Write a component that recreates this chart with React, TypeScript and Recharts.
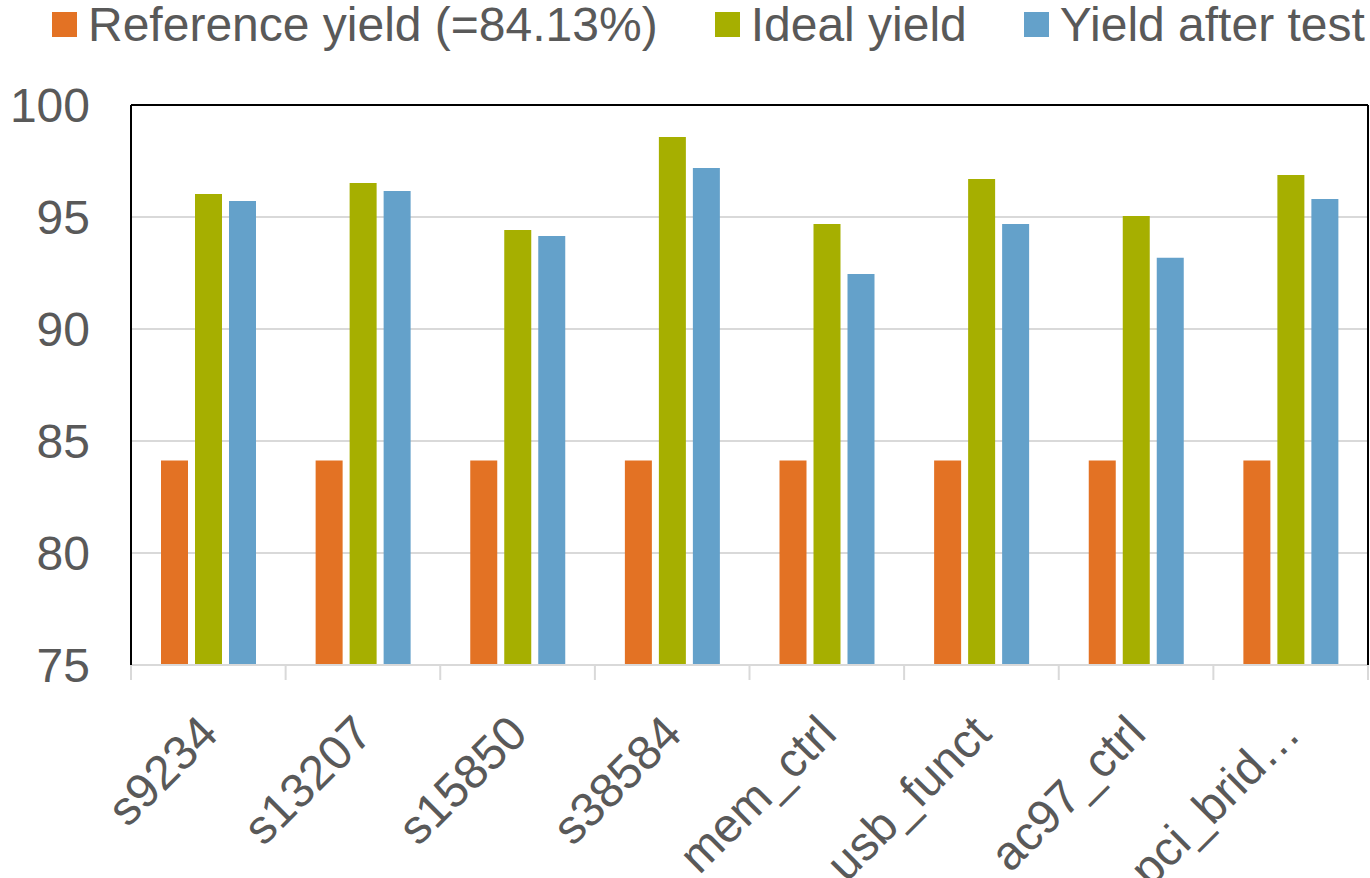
import { BarChart, Bar, XAxis, YAxis, CartesianGrid, ReferenceLine } from "recharts";

const categories = ["s9234", "s13207", "s15850", "s38584", "mem_ctrl", "usb_funct", "ac97_ctrl", "pci_brid…"];
const referenceYield = [84.13, 84.13, 84.13, 84.13, 84.13, 84.13, 84.13, 84.13];
const idealYield = [96.03, 96.52, 94.42, 98.57, 94.69, 96.7, 95.04, 96.88];
const yieldAfterTest = [95.71, 96.16, 94.15, 97.19, 92.46, 94.69, 93.18, 95.8];
const yTicks = [75, 80, 85, 90, 95, 100];

const seriesNames = ["Reference yield (=84.13%)", "Ideal yield", "Yield after test"];
const colors = ["#E37224", "#A6AF00", "#64A1CA"];

const data = categories.map((name, i) => ({
  name,
  reference: referenceYield[i],
  ideal: idealYield[i],
  afterTest: yieldAfterTest[i],
}));

const W = 1370;
const H = 878;
const FONT = "'Liberation Sans', Arial, sans-serif";
const TEXT = "#595959";
const GRID = "#d9d9d9";

function CategoryTick(props: any) {
  const { x, y, payload, index } = props;
  const half = payload.offset ?? (W - 131 - 2) / categories.length / 2;
  return (
    <g>
      <line x1={x - half} x2={x - half} y1={y} y2={y + 15} stroke={GRID} strokeWidth={2} />
      {index === categories.length - 1 && (
        <line x1={x + half} x2={x + half} y1={y} y2={y + 15} stroke={GRID} strokeWidth={2} />
      )}
      <text
        transform={`translate(${x + 12},${y + 71}) rotate(-45)`}
        textAnchor="end"
        fontSize={48}
        fontFamily={FONT}
        fill={TEXT}
      >
        {payload.value}
      </text>
    </g>
  );
}

function LegendRow() {
  return (
    <div
      style={{
        position: "absolute",
        left: 52,
        top: 0,
        display: "flex",
        fontFamily: FONT,
        fontSize: 48,
        lineHeight: "48px",
        color: TEXT,
        whiteSpace: "nowrap",
      }}
    >
      {seriesNames.map((label, i) => (
        <div key={label} style={{ display: "flex", marginRight: 57 }}>
          <div style={{ width: 25, height: 25, marginTop: 12, background: colors[i] }} />
          <span style={{ marginLeft: 11, marginTop: 1 }}>{label}</span>
        </div>
      ))}
    </div>
  );
}

export default function App() {
  return (
    <div style={{ position: "absolute", left: 0, top: 0, width: W, height: H, background: "#fff" }}>
      <LegendRow />
      <BarChart
        width={W}
        height={H}
        data={data}
        margin={{ top: 104, right: 1, bottom: 0, left: 0 }}
        barSize={27}
        barGap={7}
      >
        <CartesianGrid vertical={false} stroke={GRID} strokeWidth={2} />
        <XAxis
          dataKey="name"
          height={213}
          axisLine={{ stroke: GRID, strokeWidth: 2 }}
          tickLine={false}
          tickSize={0}
          tickMargin={0}
          interval={0}
          tick={<CategoryTick />}
        />
        <XAxis
          xAxisId="top"
          dataKey="name"
          orientation="top"
          height={1}
          axisLine={{ stroke: "#000", strokeWidth: 2 }}
          tick={false}
          tickLine={false}
        />
        <YAxis
          domain={[75, 100]}
          ticks={yTicks}
          width={131}
          axisLine={{ stroke: "#000", strokeWidth: 2 }}
          tickLine={false}
          tickSize={0}
          tickMargin={41}
          tick={{ fontSize: 48, fontFamily: FONT, fill: TEXT }}
        />
        <YAxis
          yAxisId="right"
          orientation="right"
          domain={[75, 100]}
          width={1}
          axisLine={{ stroke: "#000", strokeWidth: 2 }}
          tick={false}
          tickLine={false}
        />
        <ReferenceLine y={100} stroke="#000" strokeWidth={2} />
        <Bar dataKey="reference" fill={colors[0]} isAnimationActive={false} />
        <Bar dataKey="ideal" fill={colors[1]} isAnimationActive={false} />
        <Bar dataKey="afterTest" fill={colors[2]} isAnimationActive={false} />
      </BarChart>
    </div>
  );
}
